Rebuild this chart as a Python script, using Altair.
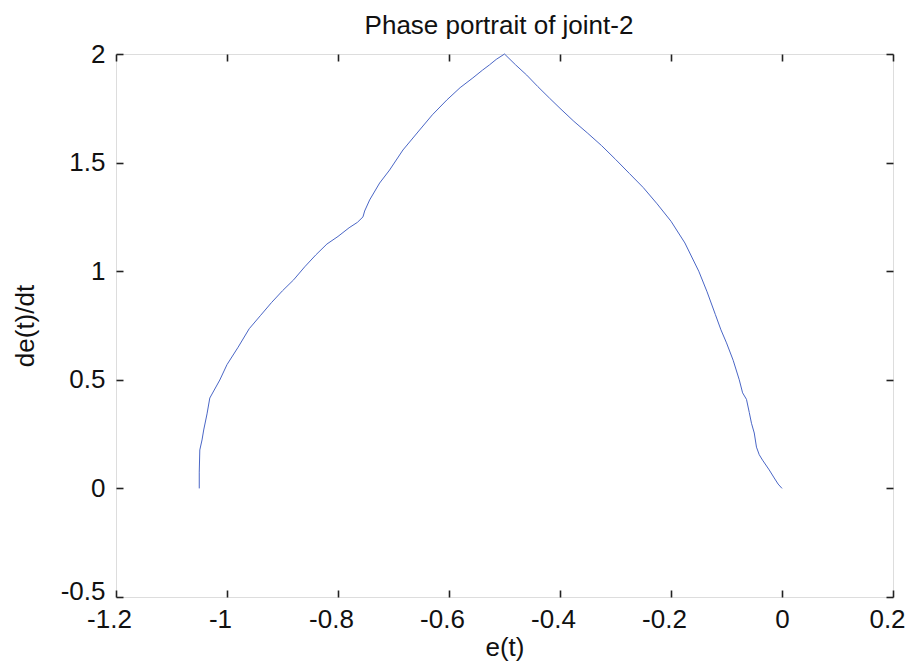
import altair as alt
import pandas as pd

# Phase portrait data
e_vals = [-1.050, -1.050, -1.049, -1.045, -1.042, -1.036, -1.031, -1.013,
          -1.000, -0.980, -0.960, -0.940, -0.920, -0.900, -0.880, -0.860,
          -0.840, -0.820, -0.800, -0.780, -0.765, -0.755, -0.752, -0.743,
          -0.725, -0.707, -0.683, -0.653, -0.630, -0.604, -0.580, -0.557,
          -0.540, -0.527, -0.515, -0.500, -0.480, -0.460, -0.440, -0.419,
          -0.400, -0.375, -0.350, -0.325, -0.300, -0.275, -0.250, -0.225,
          -0.200, -0.175, -0.150, -0.135, -0.120, -0.110, -0.100, -0.088,
          -0.077, -0.071, -0.064, -0.059, -0.055, -0.050, -0.046, -0.041,
          -0.035, -0.023, -0.014, -0.007, 0.000]
de_vals = [0.000, 0.075, 0.177, 0.223, 0.269, 0.343, 0.416, 0.499,
           0.570, 0.650, 0.735, 0.795, 0.855, 0.910, 0.960, 1.020,
           1.075, 1.125, 1.160, 1.200, 1.225, 1.250, 1.277, 1.328,
           1.406, 1.466, 1.558, 1.650, 1.720, 1.788, 1.845, 1.890,
           1.925, 1.950, 1.975, 2.000, 1.950, 1.903, 1.850, 1.797,
           1.750, 1.690, 1.635, 1.578, 1.515, 1.450, 1.385, 1.310,
           1.230, 1.130, 1.000, 0.905, 0.800, 0.730, 0.670, 0.590,
           0.500, 0.440, 0.410, 0.350, 0.300, 0.255, 0.190, 0.155,
           0.130, 0.085, 0.048, 0.020, 0.000]

x_ticks = [-1.2, -1.0, -0.8, -0.6, -0.4, -0.2, 0.0, 0.2]
y_ticks = [-0.5, 0.0, 0.5, 1.0, 1.5, 2.0]
chart_title = "Phase portrait of joint-2"

df = pd.DataFrame({"e": e_vals, "de": de_vals, "order": list(range(len(e_vals)))})

W, H = 777, 543
FONT = "Liberation Sans"
FS = 26
LBL = "'' + datum.value"

xs = alt.Scale(domain=[-1.2, 0.2], nice=False, zero=False)
ys = alt.Scale(domain=[-0.5, 2.0], nice=False, zero=False)

base = alt.Chart(df)

# main line with labels & titles
main = base.mark_line(color="#4a66c6", strokeWidth=1).encode(
    x=alt.X("e:Q", scale=xs, axis=alt.Axis(
        orient="bottom", values=x_ticks, labelExpr=LBL, ticks=False, tickSize=0,
        domain=False, grid=False, labelPadding=30, labelBaseline="alphabetic",
        labelFlush=False, labelOverlap=False,
        labelOffset=alt.expr("datum.value < 0 ? -7 : (datum.value > 0.1 ? -6 : 0)"),
        labelFontSize=FS, labelFont=FONT, labelColor="#111",
        title="e(t)", titleFont=FONT, titleFontSize=FS, titleFontWeight="normal",
        titleColor="#111", titleY=58, titleBaseline="alphabetic")),
    y=alt.Y("de:Q", scale=ys, axis=alt.Axis(
        orient="left", values=y_ticks, labelExpr=LBL, ticks=False, tickSize=0,
        domain=False, grid=False, labelPadding=11, labelBaseline="middle",
        labelFlush=False, labelOverlap=False,
        labelOffset=alt.expr("datum.value < 0 ? -6 : 0"),
        labelFontSize=FS, labelFont=FONT, labelColor="#111",
        title="de(t)/dt", titleFont=FONT, titleFontSize=FS, titleFontWeight="normal",
        titleColor="#111", titleX=-91, titleY=H / 2, titleBaseline="middle",
        titleAngle=-90)),
    order="order:Q",
)

tick_style = dict(labels=False, domain=False, grid=False, ticks=True, tickSize=7,
                  tickWidth=1.6, tickColor="#222")

# inward ticks along bottom & left (axes placed on the opposite side, pulled across)
ticks_bl = base.mark_point(opacity=0).encode(
    x=alt.X("e:Q", scale=xs, axis=alt.Axis(orient="top", offset=-H, values=x_ticks,
                                           title=None, **tick_style)),
    y=alt.Y("de:Q", scale=ys, axis=alt.Axis(orient="right", offset=-W, values=y_ticks,
                                            title=None, **tick_style)),
)
# inward ticks along top & right; the top one also carries the chart title
ticks_tr = base.mark_point(opacity=0).encode(
    x=alt.X("e:Q", scale=xs, axis=alt.Axis(
        orient="bottom", offset=-H, values=x_ticks,
        title=chart_title, titleFont=FONT, titleFontSize=FS, titleFontWeight="normal",
        titleColor="#111", titleX=W / 2 - 6, titleY=-21, titleBaseline="alphabetic",
        titleAlign="center", **tick_style)),
    y=alt.Y("de:Q", scale=ys, axis=alt.Axis(orient="left", offset=-W, values=y_ticks,
                                            title=None, **tick_style)),
)

chart = alt.layer(main, ticks_bl, ticks_tr).resolve_axis(
    x="independent", y="independent"
).properties(
    width=W, height=H,
    autosize=alt.AutoSizeParams(type="none"),
    padding={"left": 108, "top": 46, "right": 13, "bottom": 64},
).configure_view(stroke="#4a4a4a", strokeWidth=1).configure(background="white")

chart.save("out.html", embed_options={"renderer": "svg", "actions": False})
